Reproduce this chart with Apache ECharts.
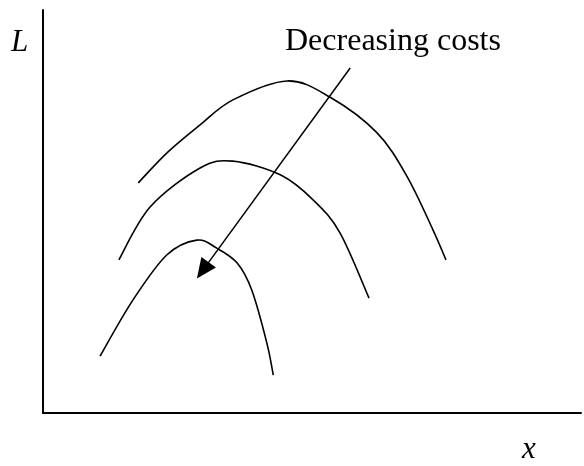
<!DOCTYPE html>
<html>
<head>
<meta charset="utf-8">
<script src="https://cdn.jsdelivr.net/npm/echarts@6/dist/echarts.min.js"></script>
<style>
  html, body { margin: 0; padding: 0; background: #fff; }
  #chart { width: 584px; height: 466px; }
</style>
</head>
<body>
<div id="chart"></div>
<script>
// cost curves, x and L on a 0-100 scale
const curveHigh = [
  [17.7, 57.1], [23.0, 64.5], [29.2, 71.5], [35.3, 77.7], [45.4, 82.4],
  [53.3, 78.4], [62.1, 69.5], [67.7, 58.6], [72.5, 45.4], [74.9, 38.0]
]
const curveMid = [
  [14.1, 38.0], [19.9, 51.1], [29.2, 60.8], [35.3, 62.5], [44.1, 59.1],
  [50.2, 52.9], [55.2, 44.7], [60.6, 28.5]
]
const curveLow = [
  [10.6, 14.1], [16.7, 28.0], [23.0, 39.2], [28.6, 42.9], [32.3, 40.9],
  [36.1, 37.2], [38.8, 30.5], [41.6, 17.4], [42.8, 9.4]
]
const arrowFrom = [57.1, 85.6]
const arrowTo = [29.7, 35.4]

const chart = echarts.init(document.getElementById('chart'))

// catmull-rom through the points, as cubic beziers
function splinePath(p) {
  let d = 'M' + p[0][0] + ' ' + p[0][1]
  for (let i = 0; i < p.length - 1; i++) {
    const a = p[i - 1] || p[i]
    const b = p[i]
    const c = p[i + 1]
    const e = p[i + 2] || c
    const c1 = [b[0] + (c[0] - a[0]) / 6, b[1] + (c[1] - a[1]) / 6]
    const c2 = [c[0] - (e[0] - b[0]) / 6, c[1] - (e[1] - b[1]) / 6]
    d += 'C' + c1.join(' ') + ' ' + c2.join(' ') + ' ' + c.join(' ')
  }
  return d
}

const curve = (pts) => ({
  type: 'custom',
  coordinateSystem: 'cartesian2d',
  silent: true,
  data: pts,
  renderItem: (params, api) => {
    if (params.dataIndex !== 0) return
    return {
      type: 'path',
      shape: { pathData: splinePath(pts.map(p => api.coord(p))) },
      style: { stroke: '#000', lineWidth: 1.6, fill: 'none' }
    }
  }
})

const label = (text, left, top, size, italic) => ({
  type: 'text',
  left: left,
  top: top,
  style: {
    text: text,
    fontFamily: 'Liberation Serif',
    fontSize: size,
    fontStyle: italic ? 'italic' : 'normal',
    fill: '#000'
  }
})

chart.setOption({
  animation: false,
  grid: { left: 43, right: 3, top: 10, bottom: 53 },
  xAxis: {
    type: 'value', min: 0, max: 100,
    axisLine: { show: true, lineStyle: { color: '#000', width: 2 } },
    axisTick: { show: false }, axisLabel: { show: false }, splitLine: { show: false }
  },
  yAxis: {
    type: 'value', min: 0, max: 100,
    axisLine: { show: true, lineStyle: { color: '#000', width: 2 } },
    axisTick: { show: false }, axisLabel: { show: false }, splitLine: { show: false }
  },
  series: [
    curve(curveHigh),
    curve(curveMid),
    curve(curveLow),
    {
      type: 'line',
      data: [],
      markLine: {
        silent: true,
        symbol: ['none', 'triangle'],
        symbolSize: [18, 20],
        label: { show: false },
        lineStyle: { color: '#000', width: 1.5, type: 'solid' },
        data: [[{ coord: arrowFrom }, { coord: arrowTo }]]
      }
    }
  ],
  graphic: [
    label('L', 11, 27, 31, true),
    label('x', 522, 434, 31, true),
    label('Decreasing costs', 285, 26, 32, false)
  ]
})
</script>
</body>
</html>
